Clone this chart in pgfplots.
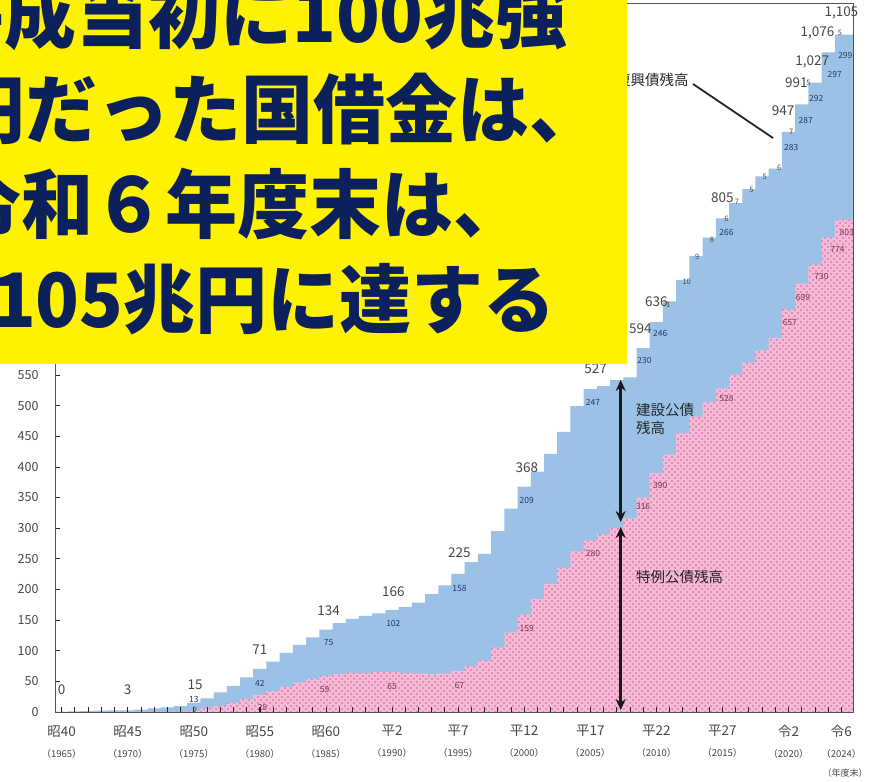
\documentclass[border=0pt]{standalone}
\usepackage{pgfplots}
\pgfplotsset{compat=1.18}
\usepackage{pgfplotstable}
\usepackage{fontspec}
\setmainfont{Noto Sans CJK JP}
\usetikzlibrary{patterns.meta,arrows.meta}
\definecolor{barblue}{RGB}{155,194,230}
\definecolor{pinkbase}{RGB}{244,186,214}
\definecolor{pinkdot}{RGB}{212,92,158}
\definecolor{navy}{RGB}{12,32,92}
\definecolor{lbl}{RGB}{70,70,70}
\definecolor{bluelbl}{RGB}{35,55,105}
\definecolor{pinklbl}{RGB}{125,55,80}

\pgfplotstableread{
year total
1965 0.2
1966 0.9
1967 1.6
1968 2.2
1969 2.6
1970 2.8
1971 4.0
1972 5.8
1973 7.5
1974 9.7
1975 15.0
1976 22.1
1977 31.9
1978 42.6
1979 56.3
1980 70.5
1981 82.3
1982 96.5
1983 109.7
1984 121.7
1985 134.4
1986 145.1
1987 151.8
1988 156.8
1989 160.9
1990 166.3
1991 171.6
1992 178.4
1993 192.5
1994 206.6
1995 225.2
1996 244.7
1997 258.0
1998 295.2
1999 331.7
2000 367.6
2001 392.4
2002 421.1
2003 457.0
2004 499.0
2005 526.9
2006 531.7
2007 541.5
2008 546.0
2009 593.9
2010 636.3
2011 669.9
2012 705.0
2013 743.9
2014 774.1
2015 805.4
2016 830.6
2017 853.2
2018 874.0
2019 886.7
2020 946.6
2021 991.4
2022 1027.0
2023 1076.5
2024 1105.4
2025.38 1105.4
}\tot

\pgfplotstableread{
year tokurei
1965 0
1974 0
1975 2
1976 6
1977 10
1978 15
1979 21
1980 28
1981 34
1982 41
1983 48
1984 54
1985 59
1986 62
1987 64
1988 64
1989 65
1990 65
1991 64
1992 63
1993 62
1994 63
1995 67
1996 75
1997 84
1998 105
1999 130
2000 159
2001 184
2002 209
2003 235
2004 262
2005 280
2006 290
2007 300
2008 316
2009 350
2010 390
2011 420
2012 455
2013 482
2014 506
2015 528
2016 550
2017 570
2018 590
2019 610
2020 657
2021 699
2022 730
2023 774
2024 803
2025.38 803
}\tok

\newcommand\tl[2]{#1\\[7pt]{\fontsize{9.5}{10}\selectfont （#2）}}

\begin{document}
\begin{tikzpicture}[
  tot/.style={font=\fontsize{13.5}{13.5}\selectfont, text=lbl, inner sep=0pt},
  bl/.style={font=\fontsize{8.5}{9}\selectfont, text=bluelbl, inner sep=0pt},
  pk/.style={font=\fontsize{8.5}{9}\selectfont, text=pinklbl, inner sep=0pt},
  rc/.style={font=\fontsize{7.5}{8}\selectfont, text=lbl, inner sep=0pt}]
\path[use as bounding box] (0pt,0pt) rectangle (869pt,781pt);
\clip (0pt,0pt) rectangle (869pt,781pt);
\begin{axis}[
  at={(55pt,69pt)}, anchor=south west, scale only axis,
  width=798pt, height=709pt,
  xmin=1964.5, xmax=2024.88, ymin=0, ymax=1157,
  axis on top, clip=false,
  axis line style={draw=gray!65!black, line width=0.9pt},
  xtick={1965,1970,1975,1980,1985,1990,1995,2000,2005,2010,2015,2020,2024},
  minor xtick={1965,...,2024},
  xtick pos=bottom, ytick pos=left,
  major tick length=5pt, minor tick length=5pt,
  tick style={draw=gray!30!black, line width=0.7pt},
  ytick={0,50,...,550},
  /pgf/number format/assume math mode=true,
  /pgf/number format/set thousands separator={},
  yticklabel style={font=\fontsize{12.5}{13}\selectfont, text=lbl, xshift=-13pt},
  xticklabel style={align=center, text=lbl, font=\fontsize{13.5}{14}\selectfont, yshift=-10pt},
  xticklabels={\tl{昭40}{1965},\tl{昭45}{1970},\tl{昭50}{1975},\tl{昭55}{1980},\tl{昭60}{1985},\tl{平2}{1990},\tl{平7}{1995},\tl{平12}{2000},\tl{平17}{2005},\tl{平22}{2010},\tl{平27}{2015},\tl{令2}{2020},\tl{令6}{2024}},
]
\addplot[const plot, fill=barblue, draw=none] table[x expr=\thisrow{year}-0.5, y=total]{\tot} \closedcycle;
\addplot[const plot, fill=pinkbase, draw=none] table[x expr=\thisrow{year}-0.5, y=tokurei]{\tok} \closedcycle;
\addplot[const plot, draw=none, pattern={Dots[distance=6pt,radius=0.8pt]}, pattern color=pinkdot] table[x expr=\thisrow{year}-0.5, y=tokurei]{\tok} \closedcycle;
\addplot[const plot, draw=none, pattern={Dots[distance=6pt,radius=0.8pt,xshift=3pt,yshift=3pt]}, pattern color=pinkdot] table[x expr=\thisrow{year}-0.5, y=tokurei]{\tok} \closedcycle;

% totals
\node[tot] at (axis cs:1965.0,36) {0};
\node[tot] at (axis cs:1970.0,36) {3};
\node[tot] at (axis cs:1975.1,44) {15};
\node[tot] at (axis cs:1980.0,101) {71};
\node[tot] at (axis cs:1985.2,166) {134};
\node[tot] at (axis cs:1990.1,196) {166};
\node[tot] at (axis cs:1995.1,260) {225};
\node[tot] at (axis cs:2000.2,398) {368};
\node[tot] at (axis cs:2005.4,561) {527};
\node[tot] at (axis cs:2008.8,625) {594};
\node[tot] at (axis cs:2010.0,669) {636};
\node[tot] at (axis cs:2015.0,839) {805};
\node[tot] at (axis cs:2019.6,981) {947};
\node[tot] at (axis cs:2020.6,1027) {991};
\node[tot] at (axis cs:2021.8,1061) {1,027};
\node[tot] at (axis cs:2022.2,1108) {1,076};
\node[tot] at (axis cs:2024.0,1141) {1,105};
% construction bonds
\node[bl] at (axis cs:1975.0,20) {13};
\node[bl] at (axis cs:1980.0,47) {42};
\node[bl] at (axis cs:1985.2,113) {75};
\node[bl] at (axis cs:1990.1,145) {102};
\node[bl] at (axis cs:1995.1,202) {158};
\node[bl] at (axis cs:2000.2,346) {209};
\node[bl] at (axis cs:2005.2,506) {247};
\node[bl] at (axis cs:2009.1,573) {230};
\node[bl] at (axis cs:2010.3,617) {246};
\node[bl] at (axis cs:2015.3,782) {266};
\node[bl] at (axis cs:2020.2,922) {283};
\node[bl] at (axis cs:2021.3,966) {287};
\node[bl] at (axis cs:2022.1,1002) {292};
\node[bl] at (axis cs:2023.5,1040) {297};
\node[bl] at (axis cs:2024.3,1072) {299};
% deficit bonds
\node[pk] at (axis cs:1975.1,3) {2};
\node[pk] at (axis cs:1980.2,7) {28};
\node[pk] at (axis cs:1984.9,36) {59};
\node[pk] at (axis cs:1990.0,41) {65};
\node[pk] at (axis cs:1995.1,44) {67};
\node[pk] at (axis cs:2000.2,137) {159};
\node[pk] at (axis cs:2005.2,259) {280};
\node[pk] at (axis cs:2009.0,335) {316};
\node[pk] at (axis cs:2010.3,369) {390};
\node[pk] at (axis cs:2015.3,512) {528};
\node[pk] at (axis cs:2020.1,635) {657};
\node[pk] at (axis cs:2021.1,677) {699};
\node[pk] at (axis cs:2022.5,710) {730};
\node[pk] at (axis cs:2023.7,754) {774};
\node[pk] at (axis cs:2024.4,783) {803};
% reconstruction bonds
\node[rc] at (axis cs:2010.9,664) {1};
\node[rc] at (axis cs:2012.3,702) {10};
\node[rc] at (axis cs:2013.1,743) {9};
\node[rc] at (axis cs:2014.2,770) {8};
\node[rc] at (axis cs:2015.3,804) {6};
\node[rc] at (axis cs:2016.1,832) {7};
\node[rc] at (axis cs:2017.2,852) {5};
\node[rc] at (axis cs:2018.2,873) {5};
\node[rc] at (axis cs:2019.3,888) {6};
\node[rc] at (axis cs:2020.2,947) {7};
\node[rc] at (axis cs:2021.5,1027) {5};
\node[rc] at (axis cs:2023.9,1108) {5};
\end{axis}

% annotations (pixel coords: y = 781 - py)
\draw[line width=3.2pt, color=black!90, {Stealth[length=11pt,width=10pt]}-{Stealth[length=11pt,width=10pt]}] (620.7pt,401pt) -- (620.7pt,259pt);
\draw[line width=3.2pt, color=black!90, {Stealth[length=11pt,width=10pt]}-{Stealth[length=11pt,width=10pt]}] (620.7pt,254pt) -- (620.7pt,71pt);
\node[anchor=west, align=left, inner sep=0pt, font=\fontsize{14.5}{18}\selectfont, text=black!85] at (636pt,362pt) {建設公債\\残高};
\node[anchor=west, inner sep=0pt, font=\fontsize{14.5}{14}\selectfont, text=black!85] at (636pt,204pt) {特例公債残高};
\draw[line width=1.8pt, color=black!85] (693pt,697pt) -- (773pt,643pt);
\node[anchor=west, inner sep=0pt, font=\fontsize{14.5}{14}\selectfont, text=black!85] at (616pt,701pt) {復興債残高};

% yellow title box
\fill[yellow] (0pt,417pt) rectangle (627pt,790pt);
\begin{scope}[every node/.style={anchor=base west, inner sep=0pt, text=navy, font=\bfseries\fontsize{75}{75}\selectfont, xscale=0.96}]
\node at (-68pt,738pt) {平成当初に100兆強};
\node at (-47pt,643pt) {円だった国借金は、};
\node at (-51pt,548pt) {令和６年度末は、};
\node at (-52pt,453pt) {1105兆円に達する};
\end{scope}
\node[inner sep=0pt, font=\fontsize{9}{9}\selectfont, text=lbl] at (845pt,8pt) {（年度末）};
\end{tikzpicture}
\end{document}
